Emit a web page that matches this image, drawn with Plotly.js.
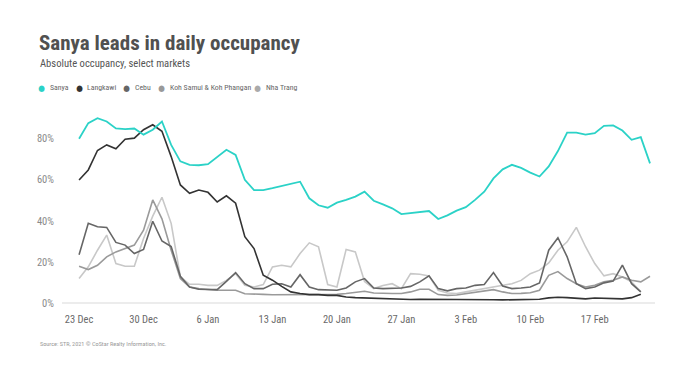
<!DOCTYPE html>
<html>
<head>
<meta charset="utf-8">
<script src="https://cdn.plot.ly/plotly-3.0.1.min.js"></script>
<style>
  html, body { margin: 0; padding: 0; background: #ffffff; }
  #chart { width: 700px; height: 366px; }
  #chart svg text { font-stretch: condensed; }
</style>
</head>
<body>
<div id="chart"></div>
<script>
// ---- Data ----
const dates = [
  '2020-12-23','2020-12-24','2020-12-25','2020-12-26','2020-12-27','2020-12-28','2020-12-29','2020-12-30','2020-12-31',
  '2021-01-01','2021-01-02','2021-01-03','2021-01-04','2021-01-05','2021-01-06','2021-01-07','2021-01-08','2021-01-09','2021-01-10',
  '2021-01-11','2021-01-12','2021-01-13','2021-01-14','2021-01-15','2021-01-16','2021-01-17','2021-01-18','2021-01-19','2021-01-20',
  '2021-01-21','2021-01-22','2021-01-23','2021-01-24','2021-01-25','2021-01-26','2021-01-27','2021-01-28','2021-01-29','2021-01-30',
  '2021-01-31','2021-02-01','2021-02-02','2021-02-03','2021-02-04','2021-02-05','2021-02-06','2021-02-07','2021-02-08','2021-02-09',
  '2021-02-10','2021-02-11','2021-02-12','2021-02-13','2021-02-14','2021-02-15','2021-02-16','2021-02-17','2021-02-18','2021-02-19',
  '2021-02-20','2021-02-21','2021-02-22','2021-02-23'
];

const sanya = [80, 87.6, 90, 88.4, 85, 84.7, 85, 82, 84.4, 88.4, 77, 69, 67.3, 67.1, 67.6, 71.3, 74.6, 72.1, 60, 55,
  55, 55.9, 57, 58, 59.1, 51, 47.6, 46.4, 48.9, 50.2, 51.8, 54.2, 49.8, 48, 46.1, 43.3, 43.8, 44.3, 44.8, 40.9,
  42.7, 45, 46.7, 50.2, 54.2, 60.7, 65.1, 67.3, 65.8, 63.5, 61.6, 66.5, 74, 83, 83, 82, 82.7, 86.3, 86.5, 84,
  79.5, 80.8, 68];

const langkawi = [59.9, 64.8, 74.3, 77, 75.1, 79.8, 80.3, 84.4, 86.8, 83.6, 71.3, 57.5, 53.4, 55, 53.9, 49.2, 52.2, 48.6, 32.3, 26.5,
  13.5, 11.1, 8.1, 5.4, 4.6, 4.1, 4.1, 3.7, 3.7, 2.9, 2.6, 2.4, 2.2, 2.0, 1.8, 1.8, 1.7, 1.8, 1.8, 1.7,
  1.6, 1.8, 1.8, 1.9, 1.8, 1.6, 1.5, 1.5, 1.6, 1.7, 1.8, 2.5, 2.8, 2.6, 2.4, 2.0, 2.4, 2.3, 2.1, 2.0,
  2.6, 4.3];

const cebu = [23.5, 38.8, 37.1, 36.8, 29.5, 28.2, 24.1, 26.1, 39.8, 30.2, 27.5, 13, 7.8, 6.7, 6.6, 6.5, 10.5, 14.8, 9.4, 7,
  7, 9.1, 9.4, 7.8, 13.8, 7.8, 6.5, 6.2, 6.2, 7.3, 10.3, 11.9, 7.3, 7, 7, 7.3, 8.1, 10.3, 13.2, 7,
  5.9, 7, 7.3, 8.6, 9, 14.8, 8.3, 7, 7.3, 7.8, 9.8, 25.7, 31.8, 22.5, 9.4, 7, 7.8, 9.8, 10.7, 18.4,
  9.4, 5.4];

const kohSamui = [17.9, 16.3, 18.4, 22.5, 24.9, 26.7, 28.2, 35.5, 50.2, 41, 25.7, 11.9, 7.8, 7, 6.5, 6.2, 6.2, 6.2, 4.5, 4.2,
  4.2, 4.0, 4.0, 3.9, 3.9, 4.0, 4.0, 4.0, 4.2, 4.6, 5.2, 5.7, 4.9, 4.6, 4.6, 4.6, 5.4, 6.7, 6.7, 4.1,
  3.7, 3.9, 4.6, 5.2, 5.7, 6.5, 5.4, 4.6, 4.7, 5.0, 6.2, 13.5, 15.3, 11.9, 9.4, 7.8, 8.6, 10.3, 11.1, 12.7,
  11.1, 10.3, 13];

const nhaTrang = [11.9, 17.6, 25.7, 33.1, 19.2, 17.9, 17.9, 31.4, 42.3, 51.5, 38.8, 12.7, 9.1, 9.1, 8.6, 8.6, 11, 14.3, 8.6, 7.8,
  9, 17.6, 18.4, 17.6, 24.1, 29.3, 27.4, 9, 7.8, 26.1, 24.9, 10.5, 7, 8.5, 9.4, 7, 14.3, 14, 13.2, 6.2,
  4.9, 4.6, 5.4, 6.2, 7, 7.5, 8.6, 9.4, 11, 14.3, 16, 19.5, 25.7, 29.8, 36.8, 27.4, 19.2, 13.2, 14.3, 12.7,
  10.3, 5.4];

const seriesNames = ['Sanya', 'Langkawi', 'Cebu', 'Koh Samui & Koh Phangan', 'Nha Trang'];
const seriesColors = ['#2bd2c7', '#333333', '#666666', '#9a9a9a', '#c8c8c8'];
const legendDotColors = ['#2bd2c7', '#333333', '#666666', '#999999', '#aaaaaa'];

const xTickVals = ['2020-12-23','2020-12-30','2021-01-06','2021-01-13','2021-01-20','2021-01-27','2021-02-03','2021-02-10','2021-02-17'];
const xTickText = ['23 Dec','30 Dec','6 Jan','13 Jan','20 Jan','27 Jan','3 Feb','10 Feb','17 Feb'];
const yTickVals = [0, 20, 40, 60, 80];
const yTickText = ['0%', '20%', '40%', '60%', '80%'];

const titleText = 'Sanya leads in daily occupancy';
const subtitleText = 'Absolute occupancy, select markets';
const sourceText = 'Source: STR, 2021 \u00a9 CoStar Realty Information, Inc.';

// ---- Layout helpers ----
const W = 700, H = 366;
const M = { l: 62, r: 45, t: 110, b: 63 };
const PW = W - M.l - M.r, PH = H - M.t - M.b;
const px = x => (x - M.l) / PW;
const py = y => (H - M.b - y) / PH;
const FONT = "'Roboto Condensed', 'Liberation Sans Narrow', 'DejaVu Sans Condensed', sans-serif";

const allSeries = [sanya, langkawi, cebu, kohSamui, nhaTrang];
const drawOrder = [4, 3, 2, 1, 0];
const traces = drawOrder.map(i => ({
  type: 'scatter',
  mode: 'lines',
  name: seriesNames[i],
  x: dates.slice(0, allSeries[i].length),
  y: allSeries[i],
  line: { color: seriesColors[i], width: i === 0 ? 1.8 : 1.6 },
  hoverinfo: 'skip',
  showlegend: false
}));

const annotations = [
  { text: titleText, x: px(37), y: py(43), xanchor: 'left', yanchor: 'middle',
    font: { family: FONT, size: 21, color: '#505050', weight: 700 } },
  { text: subtitleText, x: px(38), y: py(63), xanchor: 'left', yanchor: 'middle',
    font: { family: FONT, size: 10.6, color: '#555555' } },
  { text: sourceText, x: px(38), y: py(344), xanchor: 'left', yanchor: 'middle',
    font: { family: FONT, size: 6.2, color: '#9a9a9a' } }
];
const legendDotX = [41.7, 79, 126.7, 161.7, 257.3];
seriesNames.forEach((name, i) => {
  annotations.push({ text: '\u25CF', x: px(legendDotX[i]), y: py(87.5), xanchor: 'center', yanchor: 'middle',
    font: { family: 'DejaVu Sans', size: 8.5, color: legendDotColors[i] } });
  annotations.push({ text: name, x: px(legendDotX[i] + 6.2), y: py(87.5), xanchor: 'left', yanchor: 'middle',
    font: { family: FONT, size: 7.8, color: '#666666' } });
});
annotations.forEach(a => { a.xref = 'paper'; a.yref = 'paper'; a.showarrow = false; });

const layout = {
  width: W, height: H,
  margin: M,
  paper_bgcolor: '#ffffff', plot_bgcolor: '#ffffff',
  font: { family: FONT, color: '#777777' },
  showlegend: false,
  xaxis: {
    type: 'date',
    range: ['2020-12-21 03:30', '2021-02-23 13:00'],
    tickvals: xTickVals, ticktext: xTickText,
    ticks: 'outside', ticklen: 6, tickcolor: 'rgba(0,0,0,0)',
    tickfont: { family: FONT, size: 10.5, color: '#6a6a6a' },
    showgrid: false, zeroline: false, showline: false, fixedrange: true
  },
  yaxis: {
    range: [0, 94],
    tickvals: yTickVals, ticktext: yTickText,
    ticks: 'outside', ticklen: 5, tickcolor: 'rgba(0,0,0,0)',
    tickfont: { family: FONT, size: 10.5, color: '#8a8a8a' },
    showgrid: false, zeroline: true, zerolinecolor: '#ececec', zerolinewidth: 1.5,
    showline: false, fixedrange: true
  },
  annotations: annotations
};

Plotly.newPlot('chart', traces, layout, { staticPlot: true, displayModeBar: false });
</script>
</body>
</html>
